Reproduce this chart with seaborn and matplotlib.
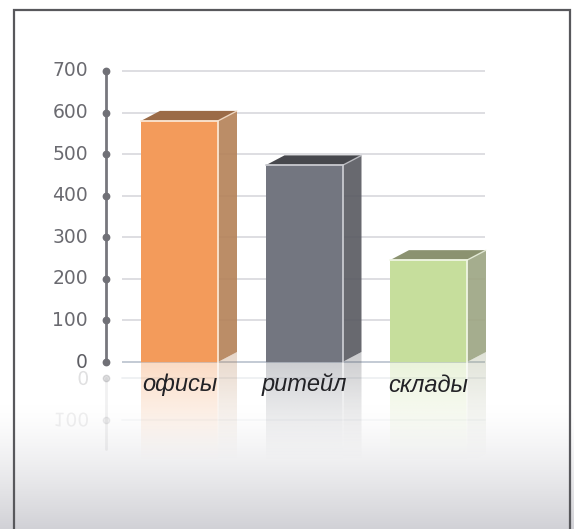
import numpy as np
import matplotlib
matplotlib.use("Agg")
import matplotlib.pyplot as plt
import matplotlib.colors as mcolors
from matplotlib import font_manager
from matplotlib.patches import Polygon, PathPatch
from matplotlib.textpath import TextPath
from matplotlib.font_manager import FontProperties
from matplotlib.transforms import Affine2D, offset_copy
import seaborn as sns
import pandas as pd

# ---------------- data ----------------
categories = ["офисы", "ритейл", "склады"]
values = [580, 473, 245]
yticks = [0, 100, 200, 300, 400, 500, 600, 700]
tick_labels = ["0", "100", "200", "300", "400", "500", "600", "700"]

# ---------------- styles ----------------
front_colors = ["#F39B5B", "#737680", "#C6DE9C"]
side_colors = ["#B5835A", "#5B5C63", "#9EA684"]
top_colors = ["#9B6B47", "#47484D", "#8B9270"]
edge_colors = ["#FBE6D2", "#C9CACF", "#F0F6E4"]

W, H, DPI = 574, 529, 100
X0_PX, STEP_PX = 179.5, 124.5
ZERO_PX, UNIT_PX = 362.0, (362.0 - 71.0) / 700.0
AX_L, AX_R, AX_T, AX_B = 106, 500, 46, 500
DX_PX, DY_PX = 19.0, 10.0

sns.set_theme(style="white")
avail = {f.name for f in font_manager.fontManager.ttflist}
narrow = "Liberation Sans Narrow" in avail
cat_family = ["Liberation Sans Narrow", "DejaVu Sans"] if narrow else ["Liberation Sans", "DejaVu Sans"]
cat_size = 18.5 if narrow else 17
plt.rcParams["font.family"] = ["DejaVu Sans"]

fig = plt.figure(figsize=(W / DPI, H / DPI), dpi=DPI)
fig.patch.set_facecolor("white")

# ---------------- background ----------------
bg = fig.add_axes([0, 0, 1, 1], zorder=0)
rows = np.arange(H)
t = np.clip((rows - 405) / (H - 405), 0, 1) ** 1.35
c_top = np.array([1.0, 1.0, 1.0])
c_bot = np.array(mcolors.to_rgb("#D1D1D6"))
grad = c_top[None, :] * (1 - t[:, None]) + c_bot[None, :] * t[:, None]
bg.imshow(np.repeat(grad[:, None, :], 2, axis=1), extent=[0, W, H, 0],
          aspect="auto", interpolation="bilinear")
bg.plot([14, 14, 570, 570], [H + 5, 10, 10, H + 5], color="#58585C", lw=1.6,
        solid_joinstyle="miter", clip_on=False)
bg.set_xlim(0, W)
bg.set_ylim(H, 0)
bg.axis("off")

# ---------------- main axes ----------------
xlim = ((AX_L - X0_PX) / STEP_PX, (AX_R - X0_PX) / STEP_PX)
ylim = ((ZERO_PX - AX_B) / UNIT_PX, (ZERO_PX - AX_T) / UNIT_PX)
ax = fig.add_axes([AX_L / W, 1 - AX_B / H, (AX_R - AX_L) / W, (AX_B - AX_T) / H], zorder=1)
ax.patch.set_alpha(0)

df = pd.DataFrame({"cat": categories, "val": values})
sns.barplot(data=df, x="cat", y="val", hue="cat", palette=front_colors, width=77 / STEP_PX,
            saturation=1, legend=False, ax=ax, zorder=4, edgecolor="none", linewidth=0)
ax.set_xlim(*xlim)
ax.set_ylim(*ylim)
ax.axis("off")

dx = DX_PX / STEP_PX
dy = DY_PX / UNIT_PX
xa = xlim[0]
grid_x0 = (122 - X0_PX) / STEP_PX
grid_x1 = (485 - X0_PX) / STEP_PX

# gridlines
for v in yticks:
    col = "#C3CAD4" if v == 0 else "#DEDEE2"
    ax.plot([grid_x0, grid_x1], [v, v], color=col, lw=1.4, zorder=1, solid_capstyle="butt")

# axis line with dots
ax.plot([xa, xa], [yticks[0], yticks[-1]], color="#77777D", lw=2.0, zorder=5, clip_on=False)
ax.plot([xa] * len(yticks), yticks, "o", ms=4.6, color="#707076", zorder=6, clip_on=False)
lab_tr = offset_copy(ax.transData, fig=fig, x=-18, y=0, units="dots")
for v, s in zip(yticks, tick_labels):
    ax.text(xa, v, s, transform=lab_tr, ha="right", va="center", fontsize=13.5,
            color="#5E5E64" if v == 0 else "#6A6A70", zorder=6)

# mirrored axis (reflection)
MIRROR = -(370 - ZERO_PX) / UNIT_PX
ax.plot([xa, xa], [2 * MIRROR, 2 * MIRROR - 170], color="#77777D", lw=2.0, alpha=0.10,
        zorder=2, clip_on=False)
for v, a in zip(yticks[:2], [0.22, 0.10]):
    ax.plot([xa], [2 * MIRROR - v], "o", ms=4.6, color="#707076", alpha=a, zorder=2, clip_on=False)
    ax.plot([grid_x0, grid_x1], [2 * MIRROR - v, 2 * MIRROR - v], color="#C3CAD4",
            lw=1.2, alpha=a * 1.4, zorder=1)

def flipped_text(s, xd, yd, size_pt, color, alpha):
    fp = FontProperties(family="DejaVu Sans", size=size_pt)
    tp = TextPath((0, 0), s, prop=fp)
    bb = tp.get_extents()
    X, Y = ax.transData.transform((xd, yd))
    sc = DPI / 72.0
    tr = Affine2D().translate(-bb.x1, -(bb.y0 + bb.y1) / 2).scale(sc, -sc).translate(X - 18, Y)
    p = PathPatch(tp, transform=tr, facecolor=color, edgecolor="none", alpha=alpha, zorder=1.5)
    fig.add_artist(p)

for v, s, a in zip(yticks[:2], tick_labels[:2], [0.20, 0.10]):
    flipped_text(s, xa, 2 * MIRROR - v, 13.5, "#66666B", a)

# ---------------- 3D faces and reflections ----------------
FADE = 240.0
A0 = 0.36

def grad_img(color, a0, n=96):
    rgb = np.array(mcolors.to_rgb(color))
    s = np.linspace(0, 1, n)
    alpha = a0 * (1 - s) ** 1.25  # row 0 = top (near floor)
    img = np.zeros((n, 2, 4))
    img[:, :, :3] = rgb
    img[:, :, 3] = alpha[:, None]
    return img

bars = [p for p in ax.patches]
for i, p in enumerate(bars):
    x0, w, v = p.get_x(), p.get_width(), p.get_height()
    x1 = x0 + w
    side = Polygon([(x1, 0), (x1, v), (x1 + dx, v + dy), (x1 + dx, dy)], closed=True,
                   facecolor=side_colors[i], edgecolor="none", alpha=0.92, zorder=3)
    top = Polygon([(x0, v), (x1, v), (x1 + dx, v + dy), (x0 + dx, v + dy)], closed=True,
                  facecolor=top_colors[i], edgecolor="none", zorder=3)
    ax.add_patch(side)
    ax.add_patch(top)
    ax.plot([x0, x1, x1], [v, v, 0], color=edge_colors[i], lw=1.3, zorder=5,
            solid_joinstyle="miter")
    ax.plot([x1, x1 + dx], [v, v + dy], color=edge_colors[i], lw=1.0, alpha=0.8, zorder=5)

    depth = min(v, FADE)
    a_scale = depth / FADE
    # reflection of front face
    ax.imshow(grad_img(front_colors[i], A0), extent=[x0, x1, -FADE, 0], origin="upper",
              aspect="auto", interpolation="bilinear", zorder=2)
    # reflection of side face
    sp = Polygon([(x1, 0), (x1, -v), (x1 + dx, -v + dy), (x1 + dx, dy)], closed=True,
                 transform=ax.transData)
    im = ax.imshow(grad_img(side_colors[i], A0 * 0.9), extent=[x1, x1 + dx, -FADE, dy],
                   origin="upper", aspect="auto", interpolation="bilinear", zorder=2)
    im.set_clip_path(sp)
    # reflected highlight edge
    ax.imshow(grad_img("#FFFFFF", 0.7), extent=[x1 - 0.006, x1 + 0.006, -FADE, 0],
              origin="upper", aspect="auto", interpolation="bilinear", zorder=2.5)

ax.set_xlim(*xlim)
ax.set_ylim(*ylim)

# category labels
lab_y = (ZERO_PX - 385) / UNIT_PX
for i, c in enumerate(categories):
    ax.text(i, lab_y, c, ha="center", va="center", fontsize=cat_size, style="italic",
            family=cat_family, color="#222226", zorder=10)

fig.savefig("out.png", dpi=DPI)
